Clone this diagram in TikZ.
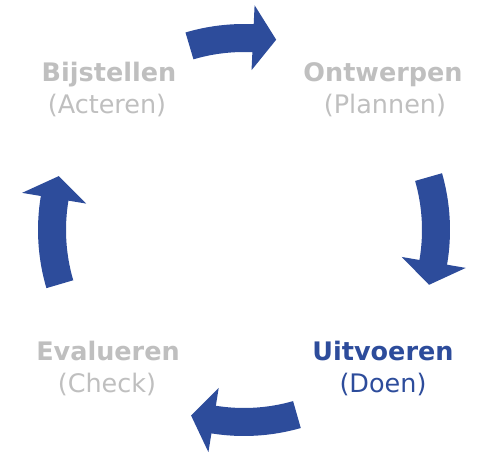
\documentclass[tikz,border=0pt]{standalone}
\usepackage{fontspec}
\setmainfont{DejaVu Sans}
\definecolor{cycblue}{HTML}{2D4C9B}
\definecolor{cycgray}{HTML}{BFBFBF}
\tikzset{
  cycarrow/.style={fill=cycblue, draw=none},
  lbl/.style={anchor=base, inner sep=0pt, font=\fontsize{25.5}{30}\selectfont},
  lblbold/.style={lbl, font=\fontsize{25.5}{30}\selectfont\bfseries},
}
\newcommand{\cycarr}[3]{%
  \fill[cycarrow] (#1:206) arc[start angle=#1, end angle=#2, radius=206]
    -- (#2:225) -- (#3:193) -- (#2:160) -- (#2:178)
    arc[start angle=#2, end angle=#1, radius=178] -- cycle;}
\begin{document}
\begin{tikzpicture}[x=1pt,y=1pt]
\useasboundingbox (0,0) rectangle (484,455);
\begin{scope}[shift={(244,225)}]
  \cycarr{106.5}{87.3}{80.4}
  \cycarr{16}{-9.7}{-16.5}
  \cycarr{-74}{-99.1}{-105.9}
  \cycarr{196.4}{170.5}{163.8}
\end{scope}
\node[lblbold, text=cycgray] (b1) at (109,373) {Bijstellen};
\node[lbl, text=cycgray] (b2) at (107,341) {(Acteren)};
\node[lblbold, text=cycgray] (o1) at (383,373) {Ontwerpen};
\node[lbl, text=cycgray] (o2) at (385,341) {(Plannen)};
\node[lblbold, text=cycgray] (e1) at (108,95) {Evalueren};
\node[lbl, text=cycgray] (e2) at (107,63) {(Check)};
\node[lblbold, text=cycblue] (u1) at (383,95) {Uitvoeren};
\node[lbl, text=cycblue] (u2) at (383,63) {(Doen)};
\end{tikzpicture}
\end{document}
